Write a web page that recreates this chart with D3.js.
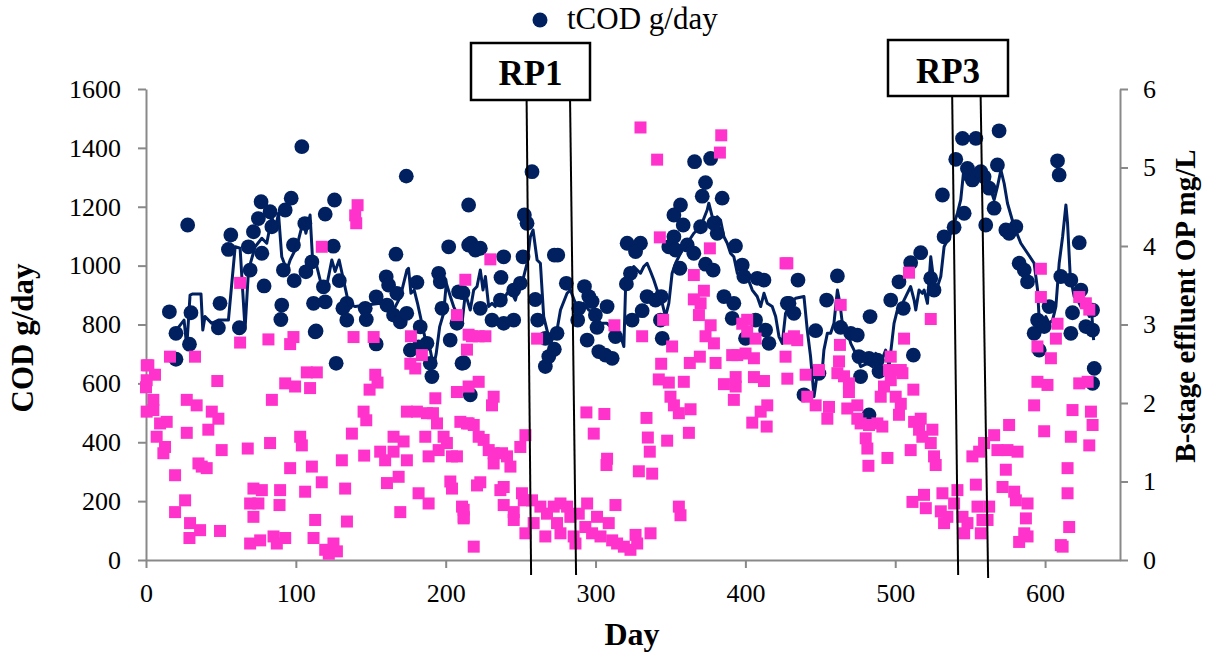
<!DOCTYPE html>
<html><head><meta charset="utf-8">
<script src="https://cdn.jsdelivr.net/npm/d3@7"></script>
<style>
body{margin:0;background:#fff}
text{font-family:"Liberation Serif","Times New Roman",serif}
</style>
</head><body>
<svg id="chart" width="1211" height="656"></svg>
<script>
// ---------- tick labels ----------
const dayTicks = [0,100,200,300,400,500,600];
const codTicks = [0,200,400,600,800,1000,1200,1400,1600];
const opTicks = [0,1,2,3,4,5,6];

// ---------- tCOD g/day (day, g/day) ----------
const tcodPoints = [
[15.6,843],[20,770],[20,682],[27.8,1138],[29,733],[30,840],[49.4,872],[48.3,789],[62.3,789],
[56.6,1104],[55,1055],[69.5,985],[71.7,1115],[68.3,1064],[76.8,1217],[75,1160],[78.8,931],
[82.8,1183],[84,1132],[77.3,1042],[90.6,866],[90,817],[92.9,1189],[96.9,1229],[104,1404],
[98.4,1070],[91.7,985],[98.9,949],[106,1143],[110.7,1013],[106.7,979],[111.8,872],[112.9,775],
[113.5,778],[118.4,928],[119.6,877],[119.6,1175],[125.8,1223],[125,1066],[126.9,668],[129,949],
[134,872],[131.4,855],[134,815],[146.3,855],[147,817],[153.6,894],[153.6,734],[160.3,962],
[161.9,934],[160.8,866],[167.4,906],[165.2,832],[169.7,809],[166.8,1039],[173.7,1304],[174,838],
[176.4,713],[180.8,943],[183,792],[181.9,724],[187.5,736],[190.8,623],[189.7,668],[195.3,974],
[196.4,945],[197.5,855],[202,1064],[203,747],[208.6,911],[210.9,668],[207.5,804],[215.3,1206],
[215.3,1070],[216.4,561],[216.9,1076],[219.8,1053],[223.1,1059],[211.5,908],[223.1,855],[212,670],
[238.7,1030],[236.9,960],[236.5,883],[230.9,815],[238.7,804],[245.4,815],[245.4,917],[251.6,1030],
[249.8,940],[252.5,1172],[254.3,1144],[257.6,1319],[259.8,885],[261.4,815],[266.5,753],[266.5,657],
[268.8,691],[272.5,716],[274.3,770],[274.8,1036],[272.5,1036],[280.5,940],[288.1,815],[288.8,855],
[292.6,929],[295.5,895],[294.4,747],[299.9,832],[301,790],[297.7,878],[307.7,861],[302.2,708],
[306.6,696],[311.1,685],[313.3,759],[321.1,1076],[330,1076],[326.7,1048],[323.3,974],[320.6,938],
[324.4,815],[331.1,847],[334.4,895],[343.8,895],[344.5,753],[343.3,815],[340,883],[348.9,1064],
[352.3,1172],[356.7,1206],[358.5,1138],[352.3,1098],[353.4,1053],[356.3,991],[361.2,1070],[365.6,1042],
[366.1,1353],[370.1,1132],[373.4,1282],[371.2,1236],[376.8,1364],[373.4,1005],[378.5,985],[384.5,1229],
[381.2,1110],[378.9,1144],[385.7,895],[392.3,872],[391.2,821],[393.4,1067],[397.9,1002],[399,963],
[407.9,957],[412.4,951],[406.8,815],[413.5,781],[415.7,736],[400.1,753],[428,872],
[429.1,872],[432.4,838],[435.1,951],[446.9,779],[449.1,634],[439.1,561],[454.2,883],[461.4,965],
[463.6,790],[470.3,770],[474.7,764],[475.8,691],[476.9,623],[482.5,685],[483.2,827],[489.2,640],
[488.1,679],[482.5,493],[497,883],[502.5,945],[505.4,855],[510.3,1010],[512.1,696],[517,1044],
[523.7,957],[525.9,917],[531.5,1240],[532.6,1098],[539.3,1130],[540.4,1361],[544.9,1432],[546,1178],
[548.2,1330],[551.5,1291],[553.8,1432],[557.1,1319],[559.3,1302],[560.4,1138],[562.7,1263],[566,1195],
[568.2,1342],[569.3,1458],[573.8,1121],[576,1110],[580.5,1132],[582.7,1008],[586.1,985],[588.3,945],
[592.7,770],[595,815],[596.1,713],[599.4,793],[602.7,861],[608.3,1356],[609.4,1308],[610.5,963],
[617.2,951],[622.8,1078],[618.3,840],[617.2,770],[623.9,917],[627.2,793],[631.7,849],[631.7,781],
[632.8,651],[631.7,600]
];

// ---------- tCOD trend line (day, g/day) ----------
const tcodTrend = [
[19.4,776],[25.4,815],[27.2,725],[29.4,900],[31.2,904],[36.7,904],[37.9,781],[39.4,827],[43.9,804],
[48.3,815],[55,815],[59.5,1064],[62.8,1059],[66.1,784],[68.4,985],[72.8,1064],[77.3,1093],[80.6,1076],
[84,1166],[86.2,1121],[88.4,1178],[90.6,1030],[94,985],[96.2,1019],[100.6,1064],[105.1,1155],[106.7,1110],
[109.5,1172],[111.3,1008],[114,997],[117.3,929],[120.7,934],[124,1019],[126.2,980],[128.9,1019],
[131.8,951],[135.2,872],[139.6,861],[147.4,866],[156.3,872],[165.2,849],[169.7,894],[174.1,985],
[175.2,991],[176.8,906],[179,917],[181.2,872],[184.1,804],[187,736],[189.7,713],[191.9,657],[193.7,702],
[196,793],[198.6,838],[200.4,940],[203.1,895],[205.3,861],[208.6,827],[210.9,804],[213.1,906],
[216.4,849],[218.7,917],[220.9,929],[223.1,985],[224.9,917],[226.5,963],[228.7,861],[230.9,872],
[233.1,861],[235.4,895],[237.6,872],[240.9,906],[243.2,917],[246.5,883],[248.7,929],[250.9,940],
[254.3,1008],[256.5,1098],[258.3,1121],[261,1019],[263.2,1008],[265.4,827],[267.6,781],[269.9,736],
[274.3,781],[276.6,849],[281,906],[283.2,917],[286.6,872],[289.9,861],[292.1,872],[295.5,849],
[298.8,838],[303.3,804],[307.7,804],[312.2,781],[316.6,764],[318.9,725],[320,917],[321.1,963],
[325.5,997],[330,974],[332.2,997],[334.4,1008],[336.7,980],[338.9,951],[341.1,917],[343.4,895],
[346.7,827],[348.9,872],[351.1,974],[353.4,1008],[356.7,1042],[361.2,1076],[365.6,1110],[370.1,1132],
[374.5,1189],[375.6,1212],[377.9,1166],[380.1,1144],[381.2,1166],[383.4,1155],[385.7,1098],[387.9,1076],
[390.1,1042],[392.3,1030],[394.6,974],[397.9,957],[401.2,963],[404.6,917],[407.9,895],[410.2,861],
[412.4,906],[414.6,872],[417.9,861],[420.2,827],[422.4,759],[424.6,736],[426.8,838],[430.2,872],
[433.5,889],[439.1,895],[441.3,781],[443.5,691],[445.8,555],[448,634],[451.3,645],[452.4,713],
[454.7,770],[456.9,770],[459.1,804],[461.4,917],[463.1,872],[464.7,804],[468,781],[470.3,736],
[473.6,702],[476.9,657],[481.4,668],[484.7,657],[487,702],[490.3,668],[493.6,713],[495.9,657],
[499.2,804],[501.4,849],[504.8,872],[507,895],[510.3,929],[512.6,883],[513.7,849],[515.9,917],
[518.1,906],[519.3,917],[521.5,872],[523.7,1030],[525.9,940],[528.2,929],[530.4,963],[532.6,1064],
[537.1,1110],[541.5,1178],[543.7,1223],[545.5,1313],[547.1,1291],[549.3,1336],[551.5,1302],
[553.8,1325],[557.1,1336],[559.3,1291],[561.6,1313],[563.8,1257],[566,1223],[568.2,1268],[570.5,1325],
[572.7,1279],[574.9,1212],[579.4,1132],[583.8,1076],[588.3,1042],[592.7,1008],[595,917],[596.1,815],
[598.3,804],[600.5,827],[602.7,804],[605,815],[607.2,861],[609.4,1008],[611.7,1098],[613.9,1206],
[615,1144],[616.8,963],[619.4,895],[621.7,883],[623.9,861],[626.1,872],[627.9,849],[629.5,827],
[631,849],[632.4,747]
];

// ---------- B-stage effluent OP mg/L (day, mg/L) ----------
const opPoints = [
[0,2.2],[0.5,2.48],[1.56,2.48],[6,2.36],[0.45,2.29],[4.9,2.04],[0.45,1.89],[4.9,1.91],[13.8,1.76],[9.4,1.74],
[7.1,1.57],[12.7,1.44],[11.6,1.36],[16,2.59],[32.7,2.59],[27.2,2.04],[33.8,1.97],[43.9,1.89],[48.3,1.80],
[41.6,1.66],[27.2,1.62],[50.5,1.40],[35,1.23],[40.5,1.17],[37.2,1.19],[19.4,1.08],[26.1,0.76],[19.4,0.61],
[29.4,0.47],[36.1,0.38],[29,0.28],[49.4,0.37],[47.6,2.28],[62.8,3.53],[62.8,2.77],[81.7,2.81],[98.4,2.84],
[96.2,2.75],[84,2.04],[92.9,2.25],[99.5,2.21],[109.5,2.19],[107.3,2.39],[114,2.39],[67.9,1.42],[82.8,1.49],
[71.7,0.91],[77.3,0.89],[69.5,0.72],[75,0.72],[71.7,0.55],[89.5,0.89],[89.1,0.70],[69.5,0.21],[76.2,0.25],
[85.1,0.30],[87.3,0.21],[92.9,0.28],[102.9,1.57],[104,1.46],[96.2,1.17],[110.7,1.19],[106.2,0.87],
[112.9,0.51],[111.8,0.28],[117.3,0.99],[119.6,0.13],[125.1,0.21],[127.4,0.11],[122,0.08],[132.9,0.91],
[130.7,1.27],[134.1,0.49],[137.4,1.61],[141.2,4.52],[140.3,4.29],[139.6,4.39],[117.3,3.99],[138.5,2.84],
[145.2,1.89],[147,1.78],[145.6,1.33],[151.9,2.84],[153,2.36],[154.5,2.26],[149.2,2.17],[156.3,1.38],
[159.6,1.27],[160.8,0.98],[165.2,1.57],[171.9,1.51],[165.2,1.38],[168.6,1.06],[174.1,1.27],[169.7,0.61],
[174.1,1.89],[180.8,1.89],[187.5,1.87],[191.5,1.87],[181.9,0.85],[188.6,0.72],[176.8,2.85],[176.4,2.50],
[179.7,2.44],[184.1,2.61],[193.1,2.06],[186.4,1.57],[194.2,1.74],[198.6,1.57],[200.8,1.49],[188.6,1.32],
[195.3,1.40],[204.2,1.32],[207.5,1.32],[203.1,1.00],[204.2,0.91],[210.9,0.68],[212,0.53],[207.5,3.12],
[213.1,3.57],[209.8,1.76],[207.5,2.14],[215.3,2.87],[214.2,2.68],[215.3,2.21],[215.3,1.74],
[229.8,3.83],[217.5,2.85],[222,2.85],[226.5,2.85],[261,2.82],[222,2.27],[232,2.08],[230.9,1.97],
[214.2,1.74],[218.7,1.72],[222,1.57],[225.3,1.53],[228.7,1.40],[232,1.36],[232,1.23],[237.6,1.36],
[240.9,1.32],[243.2,1.19],[249.8,1.44],[253.2,1.59],[223.1,0.99],[220.9,0.95],[236.5,0.89],[238.7,0.93],
[212,0.64],[212,0.55],[218.7,0.17],[238.7,0.70],[245.4,0.61],[250.9,0.85],[252.1,0.76],[245.4,0.51],
[253.2,0.34],[257.6,0.76],[263.2,0.68],[267.6,0.59],[266.5,0.30],[258.7,0.47],[272.1,0.68],[276.6,0.72],
[281,0.68],[274.3,0.47],[276.6,0.34],[283.2,0.55],[285.4,0.30],[286.6,0.21],[288.8,0.59],[294.4,0.72],
[301,0.55],[293.2,0.42],[297.7,0.34],[303.3,0.30],[308.8,0.47],[313.3,0.70],[311.1,0.25],[314.4,0.21],
[318.9,0.17],[323.3,0.13],[327.8,0.21],[326.7,0.32],[336.7,0.34],[355.6,0.68],[356.7,0.57],[293.9,1.88],
[305.9,1.86],[298.8,1.61],[307.7,1.29],[307.3,1.21],[328.9,1.13],[337.8,1.10],[334,1.81],[334.9,1.56],
[336.2,1.38],[347.8,1.52],[330,5.51],[341.1,5.10],[342.9,4.11],[383.9,5.41],[383,5.19],[376.3,3.97],
[312.6,2.99],[331.1,2.85],[345.1,3.06],[351.1,2.72],[343.8,2.50],[342.2,2.30],[348.9,2.26],[358.9,2.27],
[350,2.08],[352.3,1.97],[355.6,1.87],[363.4,1.92],[362.3,1.62],[365.6,3.63],[372.3,3.43],[365.6,3.32],
[370.1,3.27],[369,3.12],[376.8,2.99],[373.4,2.85],[379,2.76],[362.9,2.51],[369.6,2.59],[380.1,2.51],
[385.7,2.24],[391.2,2.61],[394.6,2.61],[400.1,2.63],[405.7,2.57],[393.5,2.33],[393.5,2.21],[392.3,2.04],
[397.9,3.01],[401.2,3.06],[401.2,2.91],[406.8,2.82],[405.7,2.33],[412.4,2.28],[414.6,1.97],[410.2,1.89],
[404.6,1.75],[414.2,1.70],[426.8,3.78],[429.1,2.82],[426.8,2.59],[428,2.31],
[428,3.78],[432.4,2.85],[434.6,2.80],[440.2,2.36],[441.3,2.08],[446.9,1.97],[449.1,2.42],[454.7,1.80],
[455.8,1.95],[463.6,3.25],[463.1,2.74],[462.5,2.53],[461.4,2.38],[465.8,2.34],[469.1,2.25],[469.1,2.14],
[468,1.93],[474.7,1.97],[474.7,1.80],[476.9,1.74],[482.5,1.72],[488.1,1.74],[491.4,1.70],[480.3,1.55],
[481.4,1.42],[482.1,1.20],[494.8,1.30],[490.3,2.08],[492.5,2.21],[497,2.29],[500.3,2.08],[503.7,1.99],
[502.5,1.85],[497,2.59],[495.9,2.42],[503.7,2.42],[504.8,2.38],[505.9,2.82],[509.2,3.66],[523.7,3.07],
[512.1,2.17],[512.6,1.76],[517,1.80],[515.9,1.66],[518.1,1.57],[524.8,1.66],[523.7,1.49],[525.9,1.32],
[527,1.21],[510.3,1.40],[511.5,0.74],[519.2,0.83],[520.4,0.66],[531.5,0.85],[530.4,0.62],[534.8,0.55],
[541.5,0.89],[539.3,0.72],[532.6,0.47],[544.9,0.55],[546,0.34],[548.2,0.47],[551.5,1.32],[553.8,0.96],
[556,1.38],[559.3,1.49],[554.9,0.68],[558.2,0.51],[557.1,0.34],[562.7,0.68],[561.6,0.51],[566,1.59],
[568.2,1.40],[574.9,1.40],[581.6,1.38],[576,1.72],[573.8,1.15],[571.6,0.93],[579.4,0.87],[580.5,0.76],
[588.3,0.72],[587.2,0.53],[586.1,0.34],[582.7,0.23],[588.3,0.30],[597.2,3.71],[597.2,3.35],[608.3,3.01],
[607.2,2.82],[594.9,2.72],[603.9,2.57],[594.9,2.27],[601.6,2.23],[592.7,1.97],[599.4,1.64],[615,1.17],
[615,0.85],[616.1,0.42],[610.5,0.19],[611.7,0.17],[618.3,1.91],[617.2,1.57],[622.8,2.25],[628.4,2.27],
[630.6,1.89],[631.7,1.72],[629.5,1.46],[622.8,3.35],[627.2,3.27],[629.5,3.19]
];

// ---------- recovery-period annotations ----------
const rpLabels = ["RP1","RP3"];
const rpTopDays = [[254,283],[538,557]];
const rpBottomDays = [[257,287],[542,562]];

// ---------- drawing ----------
const svg = d3.select("#chart");
const navy = "#002060", pink = "#ff33cc", axisGrey = "#898989";
const serif = '"Liberation Serif","Times New Roman",serif';
const x = d3.scaleLinear().domain([0,650]).range([146,1120]);
const yL = d3.scaleLinear().domain([0,1600]).range([560,89]);
const yR = d3.scaleLinear().domain([0,6]).range([560,89]);

function styleAxis(g){
  g.attr("font-family",serif);
  g.selectAll("path.domain").attr("stroke",axisGrey).attr("stroke-width",2);
  g.selectAll(".tick line").attr("stroke",axisGrey).attr("stroke-width",2);
  g.selectAll("text").attr("fill","#000").style("font-size","26px").style("font-family",serif);
}

const gx = svg.append("g").attr("transform","translate(0,560)")
  .call(d3.axisBottom(x).tickValues(dayTicks).tickSize(8).tickSizeOuter(0).tickFormat(d3.format("d")));
styleAxis(gx);
gx.selectAll("text").attr("dy",null).attr("y",42);

const gl = svg.append("g").attr("transform","translate(146,0)")
  .call(d3.axisLeft(yL).tickValues(codTicks).tickSize(8).tickPadding(17).tickSizeOuter(0).tickFormat(d3.format("d")));
styleAxis(gl);

const gr = svg.append("g").attr("transform","translate(1120,0)")
  .call(d3.axisRight(yR).tickValues(opTicks).tickSize(8).tickPadding(15).tickSizeOuter(0).tickFormat(d3.format("d")));
styleAxis(gr);

// tCOD circles
svg.append("g").selectAll("circle").data(tcodPoints).join("circle")
  .attr("cx",d=>x(d[0])).attr("cy",d=>yL(d[1])).attr("r",7.4).attr("fill",navy);

// trend line
svg.append("path").datum(tcodTrend)
  .attr("d",d3.line().x(d=>x(d[0])).y(d=>yL(d[1])))
  .attr("fill","none").attr("stroke",navy).attr("stroke-width",3).attr("stroke-linejoin","round");

// OP squares
const sq = 12;
svg.append("g").selectAll("rect").data(opPoints).join("rect")
  .attr("x",d=>x(d[0])-sq/2).attr("y",d=>yR(d[1])-sq/2).attr("width",sq).attr("height",sq).attr("fill",pink);

// RP annotations
const boxes = [{x0:471,x1:590,y0:43,y1:100,ty:85},{x0:888,x1:1008,y0:40,y1:96,ty:83}];
const bottomY = [[575,575],[575,578]];
rpLabels.forEach((lab,i)=>{
  const b = boxes[i];
  rpTopDays[i].forEach((d,j)=>{
    svg.append("line").attr("x1",x(d)).attr("y1",b.y1).attr("x2",x(rpBottomDays[i][j])).attr("y2",bottomY[i][j])
      .attr("stroke","#000").attr("stroke-width",2);
  });
  svg.append("rect").attr("x",b.x0).attr("y",b.y0).attr("width",b.x1-b.x0).attr("height",b.y1-b.y0)
    .attr("fill","#fff").attr("stroke","#000").attr("stroke-width",2.5);
  svg.append("text").attr("x",(b.x0+b.x1)/2).attr("y",b.ty).attr("text-anchor","middle")
    .style("font-size","35px").style("font-weight","bold").text(lab);
});

// legend
svg.append("circle").attr("cx",540).attr("cy",20).attr("r",7.5).attr("fill",navy);
svg.append("text").attr("x",567).attr("y",29).style("font-size","31px").text("tCOD g/day");

// axis titles
svg.append("text").attr("transform","translate(33,338) rotate(-90)").attr("text-anchor","middle")
  .style("font-size","31px").style("font-weight","bold").text("COD g/day");
svg.append("text").attr("transform","translate(1195,306) rotate(-90)").attr("text-anchor","middle")
  .style("font-size","29px").style("font-weight","bold").text("B-stage effluent OP mg/L");
svg.append("text").attr("x",632).attr("y",645).attr("text-anchor","middle")
  .style("font-size","32px").style("font-weight","bold").text("Day");
</script>
</body></html>
